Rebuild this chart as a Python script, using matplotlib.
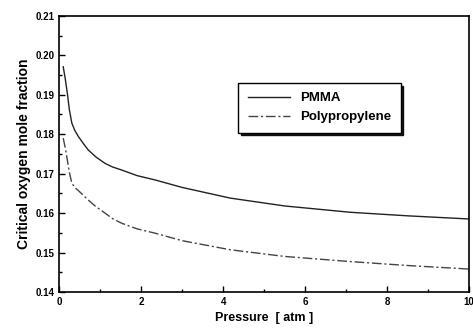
import matplotlib
matplotlib.use("Agg")
import matplotlib.pyplot as plt
from matplotlib.ticker import MultipleLocator

# values
pressure = [0.10, 0.15, 0.20, 0.25, 0.31, 0.38, 0.47, 0.60, 0.71, 0.90, 1.12, 1.30,
            1.53, 1.90, 2.34, 3.0, 4.17, 5.5, 7.1, 8.5, 10.0]
pmma = [0.1971, 0.1940, 0.1904, 0.1862, 0.1828, 0.1810, 0.1794, 0.1775, 0.1760,
        0.1742, 0.1726, 0.1717, 0.1709, 0.1695, 0.1684, 0.1665,
        0.1638, 0.1618, 0.1602, 0.1593, 0.1585]
polyprop = [0.1790, 0.1765, 0.1735, 0.1703, 0.1676, 0.1665, 0.1657, 0.1644, 0.1633,
            0.1616, 0.1600, 0.1586, 0.1574, 0.1560, 0.1549, 0.1530,
            0.1507, 0.1490, 0.1477, 0.1467, 0.1458]

plt.rcParams['font.family'] = ['Liberation Sans', 'DejaVu Sans']

fig = plt.figure(figsize=(4.73, 3.31), dpi=100)
ax = fig.add_axes([0.125, 0.118, 0.867, 0.834])

ax.plot(pressure, pmma, '-', color='#222222', lw=1.0, label='PMMA')
ax.plot(pressure, polyprop, linestyle=(0, (7, 2, 1.5, 2)), color='#444444', lw=1.0,
        label='Polypropylene')

ax.set_xlim(0, 10)
ax.set_ylim(0.14, 0.21)
ax.xaxis.set_major_locator(MultipleLocator(2))
ax.xaxis.set_minor_locator(MultipleLocator(1))
ax.yaxis.set_major_locator(MultipleLocator(0.01))
ax.yaxis.set_minor_locator(MultipleLocator(0.005))
ax.yaxis.set_major_formatter(plt.FormatStrFormatter('%.2f'))
ax.tick_params(which='both', direction='in', labelsize=7, width=1.0)
ax.tick_params(which='major', length=4)
ax.tick_params(which='minor', length=2.5)
for lab in ax.get_xticklabels() + ax.get_yticklabels():
    lab.set_fontweight('bold')
for s in ax.spines.values():
    s.set_linewidth(1.2)

ax.set_xlabel('Pressure  [ atm ]', fontsize=9, fontweight='bold', labelpad=4)
ax.set_ylabel('Critical oxygen mole fraction', fontsize=10, fontweight='bold', labelpad=3)

leg = ax.legend(loc='upper left', bbox_to_anchor=(0.437, 0.757), borderaxespad=0,
                prop={'size': 9.5, 'weight': 'bold'}, fancybox=False,
                shadow={'color': 'black', 'alpha': 0.9},
                framealpha=1, edgecolor='black',
                borderpad=0.7, handlelength=3.2, labelspacing=0.5)
leg.get_frame().set_linewidth(1.0)

fig.savefig('out.png', dpi=100)
